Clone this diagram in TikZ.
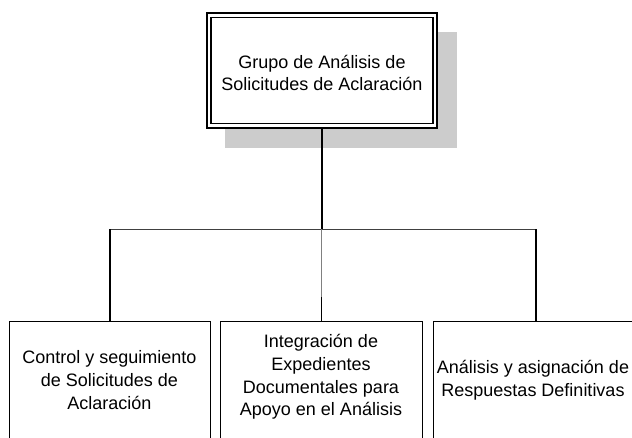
\documentclass[tikz,border=0pt]{standalone}
\usepackage{fontspec}
\setmainfont{Liberation Sans}
\begin{document}
\begin{tikzpicture}[x=1pt,y=-1pt,
  lbl/.style={font=\fontsize{18}{22.7}\selectfont, align=center, inner sep=0pt},
  topouter/.style={draw=black, line width=1.7pt, fill=white, minimum width=230pt, minimum height=115pt, inner sep=0pt},
  topinner/.style={draw=black, line width=1.1pt, minimum width=222pt, minimum height=106pt, inner sep=0pt},
  subbox/.style={draw=black, line width=1.2pt, fill=white, minimum height=122pt, inner sep=0pt},
  conn/.style={draw=black, line width=1.2pt},
  thinconn/.style={draw=black!75, line width=1pt},
  greyconn/.style={draw=black!50, line width=1.4pt}
]
\useasboundingbox (0,0) rectangle (632,437);
% shadow
\fill[black!20] (225,32) rectangle (457,148);
% top box (double border)
\node[topouter] (top) at (322,70.5) {};
\node[topinner] (topin) at (322,70.5) {};
\node[lbl] (toptext) at (322,73) {Grupo de Análisis de\\Solicitudes de Aclaración};
% bottom boxes
\node[subbox, minimum width=201pt, anchor=north west] (b1) at (9,321) {};
\node[subbox, minimum width=202pt, anchor=north west] (b2) at (220,321) {};
\node[subbox, minimum width=206pt, anchor=north west] (b3) at (433,321) {};
\node[lbl] (t1) at (109.5,380) {Control y seguimiento\\de Solicitudes de\\Aclaración};
\node[lbl] (t2) at (321,377) {Integración de\\Expedientes\\Documentales para\\Apoyo en el Análisis};
\node[lbl] (t3) at (533,380) {Análisis y asignación de\\Respuestas Definitivas};
% connectors
\coordinate (j) at (322,229);
\coordinate (g) at (321.7,297);
\coordinate (hl) at (110,229);
\coordinate (hr) at (536,229);
\draw[conn] (top.south) -- (j);
\draw[thinconn] (hl) -- (hr);
\draw[conn] (hl) -- (hl |- b1.north);
\draw[conn] (hr) -- (hr |- b3.north);
\draw[greyconn] (g |- j) -- (g);
\draw[conn] (g) -- (g |- b2.north);
\end{tikzpicture}
\end{document}
